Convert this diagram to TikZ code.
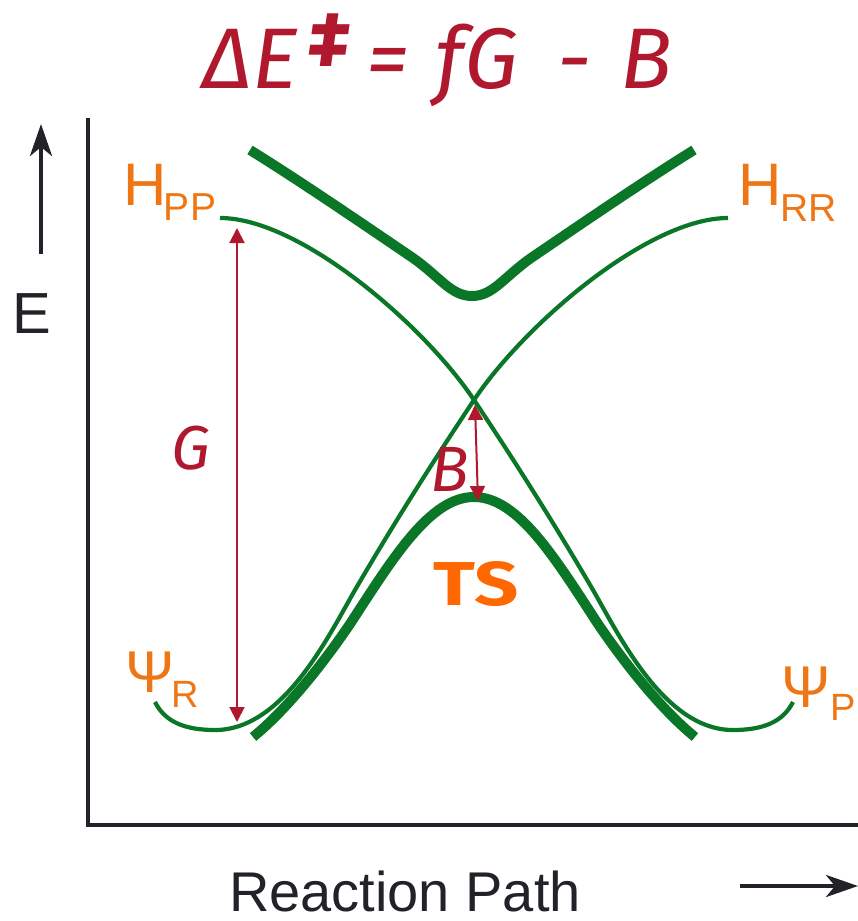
\documentclass[tikz,border=0pt]{standalone}
\usepackage{fontspec}
\setmainfont{Liberation Sans}
\newfontfamily\comicfont{Fira Sans}
\usetikzlibrary{arrows.meta}
\definecolor{cgreen}{RGB}{10,118,40}
\definecolor{corange}{RGB}{238,118,20}
\definecolor{tsorange}{RGB}{255,104,0}
\definecolor{cred}{RGB}{176,24,46}
\definecolor{axisgray}{RGB}{34,34,40}
\begin{document}
\begin{tikzpicture}[x=1pt,y=-1pt,
  diab/.style={draw=cgreen,line width=4.2pt},
  adiab/.style={draw=cgreen,line width=10pt},
  axisline/.style={draw=axisgray,line width=4pt,line join=miter},
  redarrow/.style={draw=cred,line width=2pt,{Triangle[length=15pt,width=15pt]}-{Triangle[length=15pt,width=15pt]}},
  blackarrow/.style={draw=axisgray,line width=4pt,-{Stealth[length=32pt,width=22pt,inset=9pt]}},
  lbl/.style={inner sep=0pt,text=corange,anchor=base,font=\fontsize{60}{60}\selectfont},
  sublbl/.style={inner sep=0pt,text=corange,anchor=base,font=\fontsize{39}{39}\selectfont},
  axlbl/.style={inner sep=0pt,text=axisgray,anchor=base,font=\fontsize{58}{58}\selectfont},
  comic/.style={inner sep=0pt,text=cred,anchor=base,font=\comicfont\itshape\fontsize{86}{86}\selectfont},
  comicsmall/.style={inner sep=0pt,text=cred,anchor=base,font=\comicfont\itshape\fontsize{62}{62}\selectfont},
]
\useasboundingbox (0,0) rectangle (858,921);

% title
\node[comic] (tde) at (250,88) {ΔE};
\node[comic,anchor=center,font=\comicfont\itshape\bfseries\fontsize{78}{78}\selectfont] (tdag) at (329,40) {‡};
\node[comic] (teq) at (388,88) {=};
\node[comic] (tfg) at (477,88) {fG};
\node[comic] (tmin) at (575,88) {-};
\node[comic] (tb) at (646,88) {B};

% axes
\draw[axisline] (88,118) -- (88,825) -- (858,825);
\coordinate (ebot) at (41,254);
\coordinate (etop) at (41,124);
\draw[blackarrow] (ebot) -- (etop);
\node[axlbl] (elbl) at (32,333) {E};
\coordinate (rleft) at (740,886);
\coordinate (rright) at (858,886);
\draw[blackarrow] (rleft) -- (rright);
\node[axlbl,font=\fontsize{56}{56}\selectfont] (rlbl) at (405,911) {Reaction Path};

% diabatic curves
\coordinate (hpp) at (220,218);
\coordinate (hrr) at (728,218);
\coordinate (cross) at (474,400);
\coordinate (psir) at (155,702);
\coordinate (psip) at (793,702);
\draw[diab] (psir) .. controls (165,722) and (185,730) .. (215,730)
  .. controls (283,730) and (328,637) .. (355,590)
  .. controls (394,523) and (435,458.5) .. (cross)
  .. controls (524,325) and (648,218) .. (hrr);
\draw[diab] (hpp) .. controls (300,218) and (424,325) .. (cross)
  .. controls (513,458.5) and (554,523) .. (593,590)
  .. controls (620,637) and (665,730) .. (733,730)
  .. controls (763,730) and (783,722) .. (psip);

% adiabatic curves
\coordinate (ulft) at (250,150);
\coordinate (urgt) at (694,150);
\coordinate (umin) at (472,296);
\draw[adiab] (ulft) .. controls (300,181) and (360,222) .. (413,258)
  .. controls (440,277) and (451,296) .. (umin)
  .. controls (493,296) and (504,277) .. (531,258)
  .. controls (584,222) and (644,181) .. (urgt);
\coordinate (llft) at (253,737);
\coordinate (lrgt) at (695,737);
\coordinate (lpk) at (474,497);
\draw[adiab] (llft) .. controls (285,711) and (320,668) .. (350,624)
  .. controls (393,558) and (430,497) .. (lpk)
  .. controls (518,497) and (555,558) .. (598,624)
  .. controls (628,668) and (663,711) .. (lrgt);

% red arrows
\coordinate (gtop) at (237,228);
\coordinate (gbot) at (237,722);
\draw[redarrow] (gtop) -- (gbot);
\coordinate (btop) at (475,405);
\coordinate (bbot) at (478,501);
\draw[redarrow] (btop) -- (bbot);
\node[comicsmall] (glbl) at (191,469) {G};
\node[comicsmall,font=\comicfont\itshape\fontsize{64}{64}\selectfont] (blbl) at (450,491) {B};
\node[inner sep=0pt,anchor=base,text=tsorange,font=\comicfont\bfseries\fontsize{62}{62}\selectfont] (ts) at (476,605) {\scalebox{1.25}[1]{TS}};

% state labels
\node[lbl] (hppH) at (145.5,205) {H};
\node[sublbl] (hppS) at (190,220) {PP};
\node[lbl] (hrrH) at (760.5,205) {H};
\node[sublbl] (hrrS) at (808.5,221) {RR};
\node[lbl,font=\fontsize{59}{59}\selectfont] (psirL) at (150,692) {Ψ};
\node[sublbl,font=\fontsize{38}{38}\selectfont] (psirS) at (185,707) {R};
\node[lbl,font=\fontsize{59}{59}\selectfont] (psipL) at (806.5,707) {Ψ};
\node[sublbl,font=\fontsize{38}{38}\selectfont] (psipS) at (843,720) {P};
\end{tikzpicture}
\end{document}
